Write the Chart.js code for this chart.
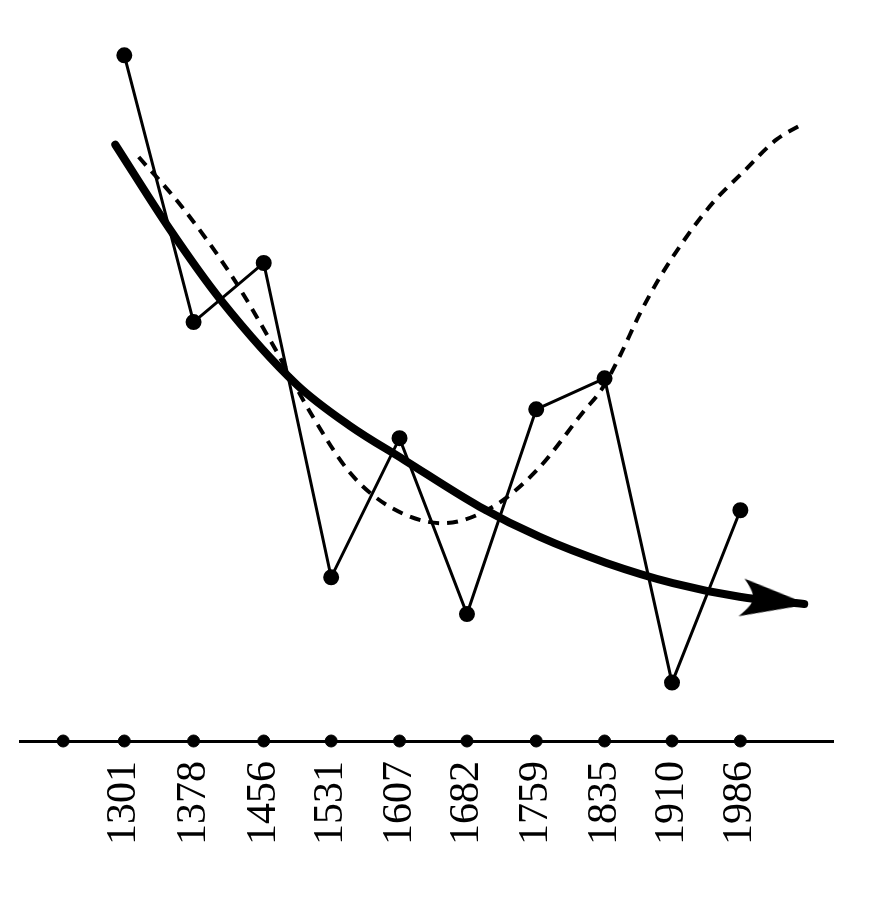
<!DOCTYPE html>
<html>
<head>
<meta charset="utf-8">
<script src="https://cdn.jsdelivr.net/npm/chart.js@4.4.1/dist/chart.umd.min.js"></script>
<style>
  html, body { margin: 0; padding: 0; background: #fff; }
</style>
</head>
<body>
<canvas id="chart" width="893" height="900"></canvas>
<script>
// Years on the axis; the first dot on the axis has no label
const tickYears = [1301, 1378, 1456, 1531, 1607, 1682, 1759, 1835, 1910, 1986];
const axisDotYears = [1233, 1301, 1378, 1456, 1531, 1607, 1682, 1759, 1835, 1910, 1986];

// Zigzag series (one value per labelled year)
const values = [95.1, 58.1, 66.3, 22.7, 42.0, 17.6, 46.0, 50.3, 8.1, 32.0];

// Thick trend curve ending in an arrow
const trendYears = [1291, 1352, 1408, 1493, 1552, 1612, 1696, 1763, 1837, 1911, 1985, 2057];
const trendValues = [82.7, 70.9, 61.2, 49.4, 43.7, 39.0, 32.5, 28.3, 24.7, 21.9, 20.0, 19.0];

// Dashed curve
const dashYears = [1317, 1365, 1421, 1465, 1511, 1552, 1596, 1655, 1711, 1760, 1811, 1833, 1852, 1874, 1896, 1922, 1955, 1989, 2026, 2057];
const dashValues = [81.0, 74.1, 64.4, 55.2, 44.9, 37.2, 32.5, 30.2, 32.5, 37.6, 45.6, 49.0, 53.4, 59.2, 64.2, 69.2, 74.6, 78.9, 83.4, 85.7];

// Build the arrowhead used as the last point of the trend curve
function makeArrowHead() {
  const c = document.createElement('canvas');
  c.width = 140;
  c.height = 42;
  const g = c.getContext('2d');
  g.fillStyle = '#000';
  g.beginPath();
  g.moveTo(74, 21);     // tip (just past the centre, covers the line cap)
  g.lineTo(8, 2);
  g.quadraticCurveTo(20, 16, 18, 21);
  g.quadraticCurveTo(20, 26, 6, 40);
  g.closePath();
  g.fill();
  return c;
}
const arrowHead = makeArrowHead();

const toXY = (xs, ys) => xs.map((x, i) => ({ x: x, y: ys[i] }));
const lastTrend = trendYears.length - 1;

Chart.defaults.color = '#000';

new Chart(document.getElementById('chart').getContext('2d'), {
  type: 'line',
  data: {
    datasets: [
      {
        label: 'values',
        data: toXY(tickYears, values),
        borderColor: '#000',
        backgroundColor: '#000',
        borderWidth: 3,
        tension: 0,
        pointRadius: 6.5,
        pointHoverRadius: 6.5
      },
      {
        label: 'trend',
        data: toXY(trendYears, trendValues),
        borderColor: '#000',
        backgroundColor: '#000',
        borderWidth: 8,
        borderCapStyle: 'round',
        cubicInterpolationMode: 'monotone',
        pointStyle: ctx => ctx.dataIndex === lastTrend ? arrowHead : 'circle',
        pointRadius: ctx => ctx.dataIndex === lastTrend ? 10 : 0,
        pointRotation: 6
      },
      {
        label: 'dashed',
        data: toXY(dashYears, dashValues),
        borderColor: '#000',
        borderWidth: 4,
        borderDash: [11, 8],
        cubicInterpolationMode: 'monotone',
        pointRadius: 0
      },
      {
        label: 'axis dots',
        data: axisDotYears.map(x => ({ x: x, y: 0 })),
        showLine: false,
        clip: false,
        backgroundColor: '#000',
        borderColor: '#000',
        pointRadius: 6,
        pointHoverRadius: 6
      }
    ]
  },
  options: {
    responsive: false,
    animation: false,
    events: [],
    layout: { padding: { top: 20, left: 20, right: 60, bottom: 0 } },
    plugins: {
      legend: { display: false },
      tooltip: { enabled: false }
    },
    scales: {
      x: {
        type: 'linear',
        min: 1185,
        max: 2089,
        grid: { display: false, drawTicks: false },
        border: { display: true, color: '#000', width: 3 },
        afterBuildTicks: scale => {
          scale.ticks = tickYears.map(v => ({ value: v }));
        },
        afterFit: scale => {
          scale.height = 159;
        },
        ticks: {
          autoSkip: false,
          minRotation: 90,
          maxRotation: 90,
          padding: 20,
          color: '#000',
          font: { family: '"Liberation Serif", "DejaVu Serif", serif', size: 42 },
          callback: v => String(v)
        }
      },
      y: {
        display: false,
        min: 0,
        max: 100
      }
    }
  }
});
</script>
</body>
</html>
